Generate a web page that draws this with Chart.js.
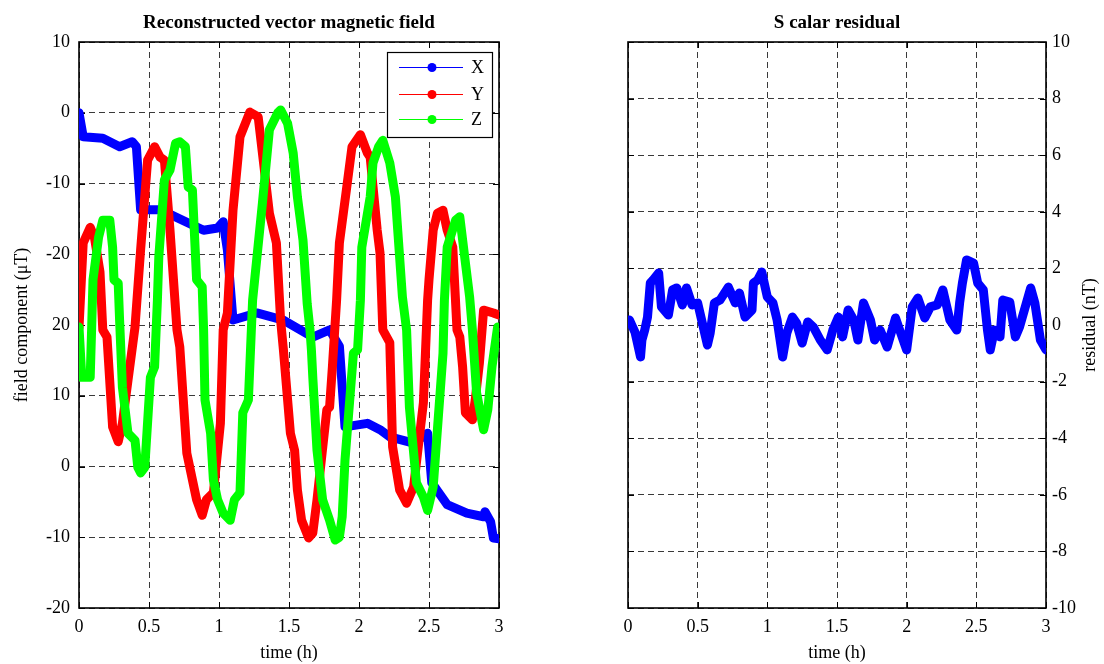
<!DOCTYPE html>
<html><head><meta charset="utf-8">
<script src="https://cdn.jsdelivr.net/npm/chart.js@4.4.1/dist/chart.umd.min.js"></script>
<style>
html,body{margin:0;padding:0;background:#fff;width:1104px;height:664px;overflow:hidden}
#l{position:absolute;left:0;top:0}
#r{position:absolute;left:552px;top:0}
</style></head><body>
<canvas id="l" width="552" height="664"></canvas>
<canvas id="r" width="552" height="664"></canvas>
<script>
// ---------- data ----------
const xTickLabels = ['0','0.5','1','1.5','2','2.5','3'];
const leftTickValues = [10,0,-10,-20,-30,-40,-50,-60,-70];
const leftTickLabels = ['10','0','-10','-20','20','10','0','-10','-20'];
const rightTickValues = [10,8,6,4,2,0,-2,-4,-6,-8,-10];
const rightTickLabels = ['10','8','6','4','2','0','-2','-4','-6','-8','-10'];
const seriesNames = ['X','Y','Z'];

const timeX = [0,0.03,0.17,0.29,0.38,0.41,0.44,0.58,0.89,0.99,1.03,1.06,1.10,1.27,1.46,1.67,1.79,1.86,1.90,2.06,2.15,2.22,2.39,2.49,2.52,2.63,2.77,2.89,2.90,2.94,2.96,3.0];
const valX = [0,-3.4,-3.6,-4.8,-4.1,-4.8,-13.7,-13.7,-16.6,-16.3,-15.4,-19.4,-29.3,-28.3,-29.3,-31.7,-30.7,-33.0,-44.4,-43.9,-44.8,-45.8,-46.7,-45.3,-52.3,-55.4,-56.6,-57.1,-56.4,-57.8,-60.1,-60.2];

const timeY = [0,0.03,0.08,0.11,0.15,0.17,0.20,0.24,0.28,0.31,0.35,0.40,0.44,0.49,0.54,0.58,0.61,0.65,0.70,0.72,0.77,0.84,0.88,0.91,0.96,1.01,1.03,1.06,1.10,1.15,1.22,1.28,1.31,1.36,1.41,1.44,1.46,1.51,1.54,1.56,1.59,1.64,1.67,1.70,1.77,1.79,1.81,1.84,1.86,1.91,1.95,2.01,2.06,2.08,2.13,2.15,2.17,2.22,2.24,2.29,2.34,2.39,2.46,2.49,2.50,2.53,2.56,2.60,2.63,2.67,2.70,2.72,2.74,2.76,2.81,2.83,2.86,2.89,2.96,3.0];
const valY = [-30.4,-18.4,-16.2,-17.6,-22.5,-30.7,-31.7,-44.4,-46.5,-43.9,-37.8,-30.3,-19.4,-6.7,-4.8,-6.3,-6.7,-16.6,-30.7,-33.1,-48.1,-54.7,-56.9,-54.7,-53.7,-43.9,-30.7,-28.3,-13.8,-3.4,0.1,-0.6,-5.7,-14.2,-18.4,-29.3,-33.5,-45.3,-47.7,-53.3,-57.6,-60.1,-59.4,-54.7,-42.0,-41.6,-35.9,-26.5,-18.4,-10.9,-4.8,-3.1,-5.7,-6.3,-16.6,-19.8,-30.7,-32.5,-47.2,-53.3,-55.2,-52.9,-41.0,-26.5,-23.6,-16.6,-14.2,-13.8,-16.6,-19.0,-30.7,-31.7,-35.9,-42.4,-43.4,-40.6,-35.4,-27.9,-28.3,-28.6];

const timeZ = [0,0.02,0.08,0.09,0.10,0.14,0.17,0.22,0.24,0.25,0.28,0.29,0.31,0.35,0.40,0.42,0.44,0.47,0.51,0.54,0.56,0.57,0.61,0.65,0.69,0.72,0.76,0.78,0.81,0.84,0.88,0.89,0.90,0.94,0.96,0.99,1.03,1.08,1.11,1.15,1.17,1.21,1.24,1.31,1.36,1.42,1.44,1.49,1.53,1.56,1.60,1.63,1.65,1.66,1.67,1.70,1.74,1.79,1.83,1.86,1.88,1.90,1.96,1.99,2.01,2.02,2.08,2.10,2.14,2.17,2.22,2.26,2.31,2.34,2.36,2.41,2.46,2.49,2.53,2.60,2.61,2.63,2.69,2.72,2.76,2.79,2.81,2.84,2.89,2.92,2.95,2.99,3.0];
const valZ = [-30.3,-37.4,-37.4,-30.7,-23.6,-17.6,-15.2,-15.2,-19.0,-23.6,-24.1,-29.3,-38.8,-45.3,-46.3,-50.1,-50.9,-50.1,-37.4,-35.9,-26.5,-20.4,-9.5,-8.1,-4.3,-4.1,-4.8,-10.5,-10.9,-23.6,-24.6,-30.7,-40.6,-45.3,-51.9,-54.7,-56.6,-57.6,-54.7,-53.7,-42.4,-40.6,-26.5,-12.8,-2.4,0.0,0.4,-1.5,-5.7,-11.9,-18.0,-27.0,-30.7,-33.5,-37.4,-47.7,-54.7,-57.6,-60.4,-60.0,-57.1,-49.1,-34.0,-33.5,-26.5,-19.0,-11.9,-7.1,-4.8,-3.9,-7.1,-11.9,-26.0,-30.7,-41.6,-52.3,-54.3,-56.2,-52.9,-34.0,-26.5,-19.0,-15.2,-14.7,-21.2,-26.0,-30.7,-39.6,-44.8,-42.0,-35.9,-30.3,-30.5];

const timeR = [0.01,0.05,0.09,0.10,0.12,0.14,0.16,0.18,0.22,0.24,0.29,0.32,0.35,0.39,0.42,0.46,0.50,0.57,0.59,0.62,0.66,0.72,0.77,0.80,0.84,0.89,0.90,0.93,0.96,1.00,1.04,1.07,1.11,1.14,1.18,1.21,1.25,1.29,1.33,1.38,1.43,1.47,1.51,1.54,1.58,1.62,1.65,1.69,1.74,1.77,1.81,1.86,1.92,1.95,2.00,2.04,2.08,2.13,2.17,2.22,2.26,2.31,2.36,2.38,2.40,2.43,2.48,2.51,2.55,2.58,2.60,2.63,2.67,2.69,2.74,2.78,2.81,2.89,2.92,2.96,3.0];
const valR = [0.18,-0.25,-1.13,-0.53,-0.18,0.28,1.48,1.59,1.84,0.64,0.35,1.24,1.31,0.71,1.31,0.71,0.78,-0.71,-0.28,0.78,0.88,1.34,0.78,1.13,0.28,0.53,1.48,1.59,1.87,0.99,0.78,0.18,-1.13,-0.28,0.28,0.07,-0.64,0.11,-0.07,-0.53,-0.88,-0.18,0.28,-0.42,0.53,0.18,-0.53,0.78,0.18,-0.53,-0.18,-0.78,0.25,-0.18,-0.88,0.64,0.95,0.25,0.64,0.71,1.24,0.18,-0.18,0.78,1.48,2.3,2.19,1.48,1.24,-0.18,-0.88,-0.18,-0.42,0.88,0.81,-0.42,-0.07,1.31,0.78,-0.53,-0.88];

// ---------- helpers ----------
const FONT = '"Liberation Serif","Times New Roman",serif';
Chart.defaults.font.family = FONT;
Chart.defaults.font.size = 18;
Chart.defaults.color = '#000';
const pts = (t, v) => t.map((x, i) => ({x: x, y: v[i]}));

const framePlugin = {
  id: 'frame',
  beforeDatasetsDraw(chart) {
    const {ctx, chartArea: a, scales} = chart;
    ctx.save();
    ctx.setLineDash([]);
    ctx.strokeStyle = '#000';
    ctx.lineWidth = 1;
    ctx.beginPath();
    scales.x.ticks.forEach(t => {
      const p = Math.round(scales.x.getPixelForValue(t.value)) + 0.5;
      ctx.moveTo(p, a.bottom); ctx.lineTo(p, a.bottom - 6);
      ctx.moveTo(p, a.top); ctx.lineTo(p, a.top + 6);
    });
    scales.y.ticks.forEach(t => {
      const p = Math.round(scales.y.getPixelForValue(t.value)) + 0.5;
      ctx.moveTo(a.left, p); ctx.lineTo(a.left + 6, p);
      ctx.moveTo(a.right, p); ctx.lineTo(a.right - 6, p);
    });
    ctx.stroke();
    ctx.lineWidth = 1.6;
    ctx.strokeRect(a.left, a.top, a.right - a.left, a.bottom - a.top);
    ctx.restore();
  }
};

const textPlugin = {
  id: 'texts',
  afterDraw(chart, args, o) {
    const {ctx, chartArea: a} = chart;
    const cx = (a.left + a.right) / 2;
    ctx.save();
    ctx.fillStyle = '#000';
    ctx.textAlign = 'center';
    ctx.textBaseline = 'alphabetic';
    ctx.font = 'bold 19px ' + FONT;
    ctx.fillText(o.title, cx, 28);
    ctx.font = '18px ' + FONT;
    ctx.fillText(o.xTitle, cx, 658);
    ctx.translate(o.yTitleX, (a.top + a.bottom) / 2);
    ctx.rotate(-Math.PI / 2);
    ctx.textBaseline = 'middle';
    ctx.fillText(o.yTitle, 0, 0);
    ctx.restore();
  }
};

const legendPlugin = {
  id: 'boxLegend',
  afterDatasetsDraw(chart) {
    const {ctx} = chart;
    const x0 = 387, y0 = 52, w = 105, h = 85;
    ctx.save();
    ctx.setLineDash([]);
    ctx.fillStyle = '#fff';
    ctx.fillRect(x0, y0, w, h);
    ctx.strokeStyle = '#000';
    ctx.lineWidth = 1.2;
    ctx.strokeRect(x0 + 0.5, y0 + 0.5, w, h);
    const rows = [67, 94, 119];
    chart.data.datasets.forEach((ds, i) => {
      const y = rows[i];
      ctx.strokeStyle = ds.borderColor;
      ctx.lineWidth = 1;
      ctx.beginPath(); ctx.moveTo(399, y + 0.5); ctx.lineTo(463, y + 0.5); ctx.stroke();
      ctx.fillStyle = ds.borderColor;
      ctx.beginPath(); ctx.arc(432, y + 0.5, 4.5, 0, Math.PI * 2); ctx.fill();
      ctx.fillStyle = '#000';
      ctx.font = '18px ' + FONT;
      ctx.textAlign = 'left';
      ctx.textBaseline = 'middle';
      ctx.fillText(ds.label, 471, y + 1);
    });
    ctx.restore();
  }
};

const gridCfg = {color: '#3a3a3a', lineWidth: 1, drawTicks: false};
const borderCfg = {display: false, dash: [6, 4]};
const lineEl = {borderWidth: 9, borderCapStyle: 'round', borderJoinStyle: 'round', tension: 0, fill: false};

// ---------- left chart ----------
new Chart(document.getElementById('l'), {
  type: 'line',
  data: {
    datasets: [
      {label: seriesNames[0], data: pts(timeX, valX), borderColor: '#0000ff', backgroundColor: '#0000ff', order: 3},
      {label: seriesNames[1], data: pts(timeY, valY), borderColor: '#ff0000', backgroundColor: '#ff0000', order: 2},
      {label: seriesNames[2], data: pts(timeZ, valZ), borderColor: '#00ff00', backgroundColor: '#00ff00', order: 1}
    ]
  },
  options: {
    responsive: false, animation: false, devicePixelRatio: 1,
    elements: {line: lineEl, point: {radius: 0}},
    layout: {padding: {left: 0, right: 53, top: 42, bottom: 0}},
    plugins: {
      legend: {display: false}, tooltip: {enabled: false},
      texts: {title: 'Reconstructed vector magnetic field', xTitle: 'time (h)', yTitle: 'field component (\u03bcT)', yTitleX: 22}
    },
    scales: {
      x: {type: 'linear', min: 0, max: 3,
        ticks: {stepSize: 0.5, padding: 8, callback: (v, i) => xTickLabels[i]},
        grid: gridCfg, border: borderCfg,
        afterFit: s => { s.height = 56; }},
      y: {type: 'linear', min: -70, max: 10,
        ticks: {stepSize: 10, padding: 9, callback: v => leftTickLabels[leftTickValues.indexOf(v)]},
        grid: gridCfg, border: borderCfg,
        afterFit: s => { s.width = 79; }}
    }
  },
  plugins: [framePlugin, textPlugin, legendPlugin]
});

// ---------- right chart ----------
new Chart(document.getElementById('r'), {
  type: 'line',
  data: {
    datasets: [
      {label: 'residual', data: pts(timeR, valR), borderColor: '#0000ff', backgroundColor: '#0000ff'}
    ]
  },
  options: {
    responsive: false, animation: false, devicePixelRatio: 1,
    elements: {line: lineEl, point: {radius: 0}},
    layout: {padding: {left: 76, right: 0, top: 42, bottom: 0}},
    plugins: {
      legend: {display: false}, tooltip: {enabled: false},
      texts: {title: 'S calar residual', xTitle: 'time (h)', yTitle: 'residual (nT)', yTitleX: 538}
    },
    scales: {
      x: {type: 'linear', min: 0, max: 3,
        ticks: {stepSize: 0.5, padding: 8, callback: (v, i) => xTickLabels[i]},
        grid: gridCfg, border: borderCfg,
        afterFit: s => { s.height = 56; }},
      y: {type: 'linear', position: 'right', min: -10, max: 10,
        ticks: {stepSize: 2, padding: 6, callback: v => rightTickLabels[rightTickValues.indexOf(v)]},
        grid: gridCfg, border: borderCfg,
        afterFit: s => { s.width = 58; }}
    }
  },
  plugins: [framePlugin, textPlugin]
});
</script>
</body></html>
